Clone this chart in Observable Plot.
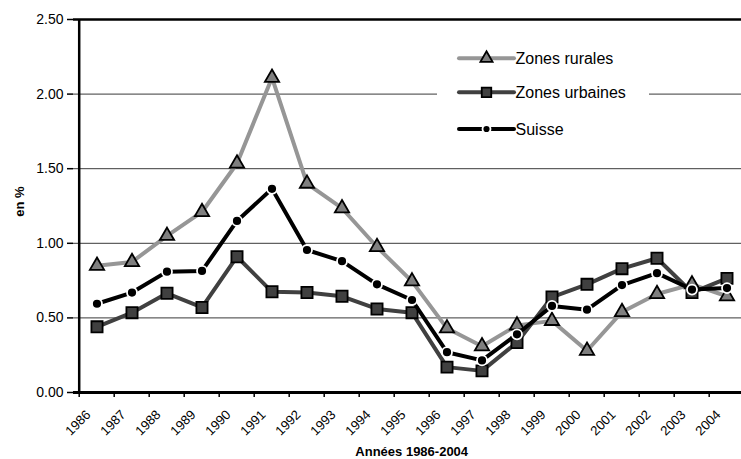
<!DOCTYPE html>
<html><head><meta charset="utf-8">
<script src="https://cdn.jsdelivr.net/npm/d3@7"></script>
<script src="https://cdn.jsdelivr.net/npm/@observablehq/plot@0.6"></script>
<style>
html,body{margin:0;padding:0;background:#fff;overflow:hidden;width:741px;height:459px}
#chart{position:relative;width:741px;height:459px;overflow:hidden}
#chart svg{display:block;max-width:none !important}
</style></head><body><div id="chart"></div>
<script>
const years = [1986,1987,1988,1989,1990,1991,1992,1993,1994,1995,1996,1997,1998,1999,2000,2001,2002,2003,2004];
const rurales  = [0.85,0.875,1.05,1.21,1.535,2.11,1.40,1.235,0.975,0.745,0.43,0.31,0.45,0.48,0.28,0.54,0.66,0.725,0.645];
const urbaines = [0.44,0.535,0.665,0.57,0.91,0.675,0.67,0.645,0.56,0.535,0.17,0.145,0.335,0.64,0.725,0.83,0.90,0.67,0.765];
const suisse   = [0.595,0.67,0.81,0.815,1.15,1.365,0.955,0.88,0.725,0.62,0.27,0.215,0.39,0.58,0.555,0.72,0.80,0.69,0.70];
const yTicks = [0,0.5,1,1.5,2,2.5];
const gridTicks = [0.5,1,1.5,2];
const seriesNames = ["Zones rurales","Zones urbaines","Suisse"];
const xTitle = "Années 1986-2004";
const yTitle = "en %";

const styles = [
  {line:"#969696", symbol:"triangle", fill:"#7f7f7f", stroke:"#000", r:5.3, sw:1.8},
  {line:"#404040", symbol:"square", fill:"#404040", stroke:"#000", r:6.3, sw:1.8},
  {line:"#000000", symbol:"circle", fill:"#000", stroke:"#fff", r:5, sw:1.8}
];
const seriesValues = [rurales, urbaines, suisse];
const X = years.map(String);
const rows = seriesValues.map(vals => vals.map((v,i)=>({year:X[i], value:v})));

const W = 750, H = 459, ML = 73, MR = 0.6, MT = 19, MB = 67;
const bw = (W - ML - MR) / years.length;
const font = "'Liberation Sans', Arial, sans-serif";

const marks = [
  Plot.ruleY(gridTicks, {stroke:"#3a3a3a", strokeWidth:1}),
  Plot.ruleY([2.5], {stroke:"#000", strokeWidth:2.5}),
  Plot.axisY({ticks: yTicks, tickFormat: d3.format(".2f"), tickSize: 6, tickPadding: 4, fontSize: 14, label: null, stroke:"#000", strokeWidth:1.5, color:"#000"}),
  Plot.axisX({tickSize: 0, tickRotate: -45, tickPadding: 8, dx: -8.5, dy: 12, fontSize: 13.2, label: null, color:"#000"}),
  Plot.ruleX(X, {x: d=>d, y1: 0, y2: -0.034, dx: -bw/2, stroke:"#000", strokeWidth:1.5}),
  Plot.ruleX([X[0]], {x: d=>d, y1: 0, y2: 2.5, dx: -bw/2, stroke:"#000", strokeWidth:2.5}),
  Plot.ruleY([0], {stroke:"#000", strokeWidth:3}),
  Plot.text([yTitle], {frameAnchor:"left", textAnchor:"middle", lineAnchor:"middle", dx:-54, dy:-4.5, rotate:-90, fontWeight:"bold", fontSize:13, fill:"#000"}),
  Plot.text([xTitle], {frameAnchor:"bottom", textAnchor:"middle", lineAnchor:"middle", dy:59, fontWeight:"bold", fontSize:13, fill:"#000"})
];
rows.forEach((data, k) => {
  const s = styles[k];
  marks.push(Plot.line(data, {x:"year", y:"value", stroke:s.line, strokeWidth:4, strokeLinejoin:"round", strokeLinecap:"round"}));
  marks.push(Plot.dot(data, {x:"year", y:"value", symbol:()=>s.symbol, r:s.r, fill:s.fill, stroke:s.stroke, strokeWidth:s.sw}));
});

const chart = Plot.plot({
  width: W, height: H, marginLeft: ML, marginRight: MR, marginTop: MT, marginBottom: MB,
  style: {fontFamily: font, background:"#fff", overflow:"visible", maxWidth:"none"},
  x: {type:"band", domain: X, padding: 0},
  y: {domain:[0,2.5]},
  symbol: {type:"identity"},
  marks
});
document.getElementById("chart").appendChild(chart);

// legend
const svg = d3.select(chart);
const lg = svg.append("g").attr("font-family", font).attr("text-anchor","start");
lg.append("rect").attr("x",437).attr("y",38).attr("width",212).attr("height",110).attr("fill","#fff");
const rowY = [58.3, 92.3, 129];
seriesNames.forEach((name,k) => {
  const s = styles[k], y = rowY[k];
  lg.append("line").attr("x1",459).attr("x2",514).attr("y1",y).attr("y2",y).attr("stroke",s.line).attr("stroke-width",4).attr("stroke-linecap","round");
  const sym = {triangle:d3.symbolTriangle, square:d3.symbolSquare, circle:d3.symbolCircle}[s.symbol];
  const rr = s.symbol==="circle" ? 4 : s.r*0.85;
  lg.append("path").attr("d", d3.symbol(sym, Math.PI*rr*rr)()).attr("transform",`translate(486.5,${y})`)
    .attr("fill", s.fill).attr("stroke", s.stroke).attr("stroke-width", s.sw);
  lg.append("text").attr("x",515.5).attr("y",y).attr("dy","0.35em").attr("font-size",16).attr("fill","#000").text(name);
});
</script></body></html>
